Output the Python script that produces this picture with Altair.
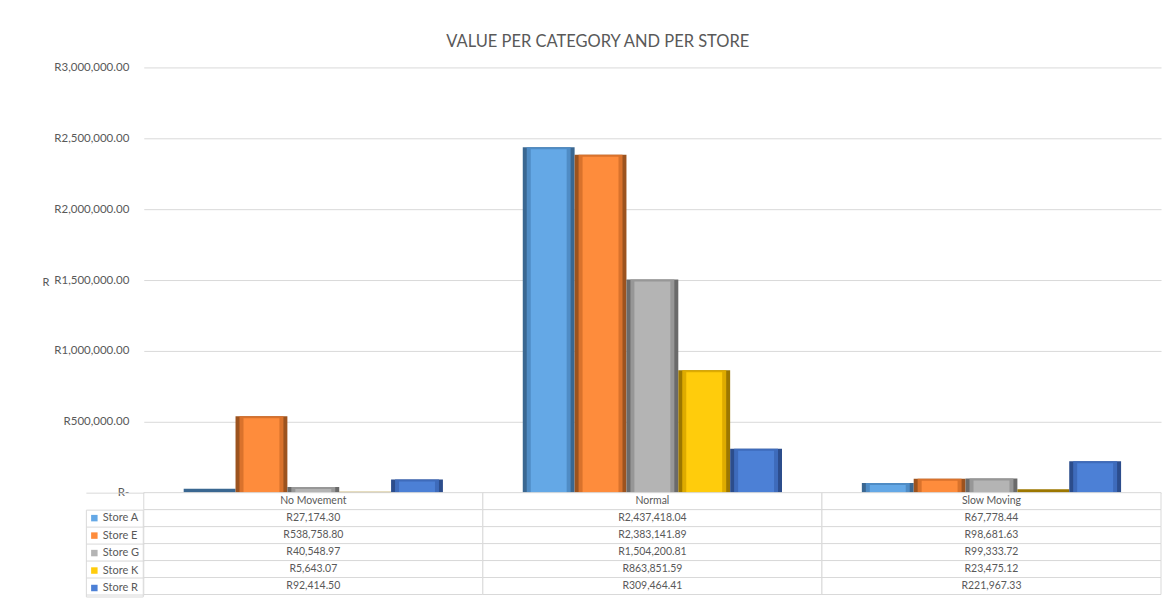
import altair as alt
import pandas as pd

categories = ["No Movement", "Normal", "Slow Moving"]
stores = ["Store A", "Store E", "Store G", "Store K", "Store R"]
store_a = [27174.30, 2437418.04, 67778.44]
store_e = [538758.80, 2383141.89, 98681.63]
store_g = [40548.97, 1504200.81, 99333.72]
store_k = [5643.07, 863851.59, 23475.12]
store_r = [92414.50, 309464.41, 221967.33]
y_ticks = [0, 500000, 1000000, 1500000, 2000000, 2500000, 3000000]

face_colors = ["#64a8e6", "#fe8c3c", "#b4b4b4", "#ffcc0c", "#4c80d6"]
mid_colors = ["#4f8cc5", "#d9722c", "#979797", "#deab00", "#3e6bbb"]
dark_colors = ["#3a6791", "#9c531f", "#6a6a6a", "#9c7700", "#2c4d8c"]

series = [store_a, store_e, store_g, store_k, store_r]
rows = []
for s, vals in zip(stores, series):
    for c, v in zip(categories, vals):
        rows.append({"category": c, "store": s, "value": v})
df = pd.DataFrame(rows)

FONT = "Lato"
GRAY = "#595959"
GRID = "#d9d9d9"

x_enc = alt.X("category:N", sort=categories,
              scale=alt.Scale(domain=categories, paddingInner=0, paddingOuter=0),
              axis=None)
xo_enc = alt.XOffset("store:N", sort=stores,
                     scale=alt.Scale(domain=stores, paddingInner=0, paddingOuter=0.77))
y_enc = alt.Y("value:Q",
              scale=alt.Scale(domain=[0, 3000000], nice=False),
              axis=alt.Axis(values=y_ticks, grid=True, gridColor=GRID, domain=False,
                            ticks=False, labelPadding=15, labelColor=GRAY,
                            labelFont=FONT, labelFontSize=11.5,
                            labelExpr="datum.value == 0 ? 'R-\u00a0\u00a0\u00a0\u00a0\u00a0' : 'R' + format(datum.value, ',.2f')",
                            title="R", titleAngle=0, titleAlign="right",
                            titleBaseline="middle", titleX=-95, titleY=215,
                            titleColor=GRAY, titleFont=FONT, titleFontSize=11,
                            titleFontWeight="normal"))

base = alt.Chart(df).encode(x=x_enc, xOffset=xo_enc, y=y_enc)

outer = base.mark_bar().encode(
    color=alt.Color("store:N", sort=stores,
                    scale=alt.Scale(domain=stores, range=dark_colors), legend=None)
)
mid = base.transform_filter("datum.value > 30000").mark_bar(
    size=44, xOffset=-4, y2Offset=-6
).encode(
    color=alt.Color("store:N", sort=stores,
                    scale=alt.Scale(domain=stores, range=mid_colors), legend=None)
)
face = base.transform_filter("datum.value > 30000").mark_bar(
    size=36, xOffset=-2, yOffset=2, y2Offset=-6
).encode(
    color=alt.Color("store:N", sort=stores,
                    scale=alt.Scale(domain=stores, range=face_colors),
                    legend=alt.Legend(title=None, orient="none", legendX=-58, legendY=443,
                                      direction="vertical", symbolType="square",
                                      symbolSize=42, symbolStrokeWidth=0,
                                      labelFont=FONT, labelFontSize=11, labelColor=GRAY,
                                      labelOffset=3, rowPadding=5.5, padding=3,
                                      strokeColor=GRID))
)

bars = alt.layer(outer, mid, face).resolve_scale(color="independent").properties(
    width=1019, height=426)

# data table under the plot
row_names = ["header"] + stores
trows = []
for c in categories:
    trows.append({"category": c, "row": "header", "label": c})
for s, vals in zip(stores, series):
    for c, v in zip(categories, vals):
        trows.append({"category": c, "row": s, "label": "R" + f"{v:,.2f}"})
tdf = pd.DataFrame(trows)

tbase = alt.Chart(tdf).encode(
    x=alt.X("category:N", sort=categories,
            scale=alt.Scale(domain=categories, paddingInner=0, paddingOuter=0), axis=None),
    y=alt.Y("row:N", sort=row_names,
            scale=alt.Scale(domain=row_names, paddingInner=0, paddingOuter=0),
            axis=alt.Axis(labels=False, domain=False, ticks=True, tickSize=58,
                          tickBand="extent", title=None,
                          tickColor={"condition": {"test": "datum.value === 'header'",
                                                   "value": "transparent"},
                                     "value": GRID}))
)
cells = tbase.mark_rect(fill="white", stroke=GRID, strokeWidth=1)
texts = tbase.mark_text(font=FONT, fontSize=10.5, color=GRAY).encode(text="label:N")
table = alt.layer(cells, texts).properties(width=1019, height=102)

chart = alt.vconcat(bars, table, spacing=0, bounds="flush").resolve_legend(
    color="independent"
).properties(
    title=alt.TitleParams("VALUE PER CATEGORY AND PER STORE", font=FONT, fontSize=16.5,
                          fontWeight="normal", color=GRAY, anchor="middle", dx=-4,
                          offset=11),
    padding={"left": 34, "top": 25, "right": 0, "bottom": 0},
    background="white",
).configure_view(stroke=None)

chart.save("out.html", embed_options={"renderer": "svg", "actions": False})
